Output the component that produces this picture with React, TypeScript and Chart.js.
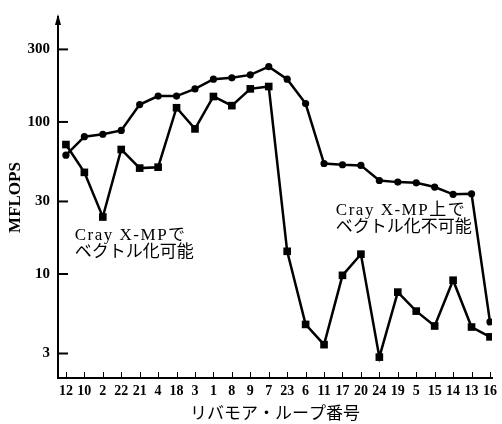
import React, { useEffect, useRef } from "react";
import { Chart, registerables } from "chart.js";

Chart.register(...registerables);

const categories = ["12", "10", "2", "22", "21", "4", "18", "3", "1", "8", "9", "7", "23", "6", "11", "17", "20", "24", "19", "5", "15", "14", "13", "16"];
const vectorizedOnXMP = [60.5, 80, 83, 88, 130, 148, 148, 165, 191, 195, 204, 231, 191, 132, 53.3, 52.3, 51.8, 41.2, 40.2, 39.8, 37.3, 33.4, 33.7, 4.84];
const squareSeries = [71, 46.6, 23.7, 65.9, 49.7, 50.4, 124, 90, 147, 128, 165, 171, 14.1, 4.66, 3.43, 9.8, 13.5, 2.84, 7.6, 5.7, 4.55, 9.1, 4.48, 3.86];
const yTickValues = [3, 10, 30, 100, 300];
const yTitle = "MFLOPS";
const xTitle = "リバモア・ループ番号";
const noteLeft = ["Cray X-MPで", "ベクトル化可能"];
const noteRight = ["Cray X-MP上で", "ベクトル化不可能"];

const SERIF = '"Liberation Serif", "Times New Roman", serif';
const NOTE_FONT = '17px "Liberation Serif", "Noto Sans CJK JP", serif';

const decorPlugin = {
  id: "decor",
  afterDraw(chart: any) {
    const { ctx, chartArea } = chart;
    const xs = chart.scales.x;
    const ys = chart.scales.y;
    ctx.save();
    ctx.strokeStyle = "#000";
    ctx.fillStyle = "#000";
    ctx.lineWidth = 1;
    categories.forEach((_, i) => {
      const px = Math.round(xs.getPixelForValue(i)) + 0.5;
      ctx.beginPath();
      ctx.moveTo(px, chartArea.bottom);
      ctx.lineTo(px, chartArea.bottom - 6);
      ctx.stroke();
    });
    ctx.lineWidth = 2;
    yTickValues.forEach((v) => {
      const py = ys.getPixelForValue(v);
      ctx.beginPath();
      ctx.moveTo(chartArea.left, py);
      ctx.lineTo(chartArea.left + 10, py);
      ctx.stroke();
    });
    const ax = chartArea.left;
    const ay = chartArea.top - 3;
    ctx.beginPath();
    ctx.moveTo(ax, ay);
    ctx.lineTo(ax - 3, ay + 11);
    ctx.lineTo(ax + 3, ay + 11);
    ctx.closePath();
    ctx.fill();
    ctx.font = NOTE_FONT;
    ctx.textBaseline = "middle";
    ctx.textAlign = "left";
    const drawLines = (lines: string[], x: number, y: number) => {
      lines.forEach((t, k) => {
        (ctx as any).letterSpacing = k === 0 ? "1.5px" : "0px";
        ctx.fillText(t, x, y + k * 17);
      });
      (ctx as any).letterSpacing = "0px";
    };
    drawLines(noteLeft, xs.getPixelForValue(0.48), ys.getPixelForValue(17.8));
    drawLines(noteRight, xs.getPixelForValue(14.64), ys.getPixelForValue(26.2));
    ctx.restore();
  },
};

export default function App() {
  const ref = useRef<HTMLCanvasElement>(null);
  useEffect(() => {
    document.body.style.margin = "0";
    const canvas = ref.current!;
    const chart = new Chart(canvas, {
      type: "line",
      data: {
        datasets: [
          {
            data: vectorizedOnXMP.map((v, i) => ({ x: i, y: v })),
            borderColor: "#000",
            backgroundColor: "#000",
            borderWidth: 2.5,
            pointStyle: "circle",
            pointRadius: 3.6,
            pointBorderWidth: 0,
            tension: 0,
          },
          {
            data: squareSeries.map((v, i) => ({ x: i, y: v })),
            borderColor: "#000",
            backgroundColor: "#000",
            borderWidth: 2.5,
            pointStyle: "rect",
            pointRadius: 5.4,
            pointBorderWidth: 0,
            tension: 0,
          },
        ],
      },
      options: {
        responsive: false,
        animation: false,
        devicePixelRatio: 1,
        layout: { padding: { top: 10, right: 5, left: 0, bottom: 0 } },
        plugins: { legend: { display: false }, tooltip: { enabled: false } },
        scales: {
          x: {
            type: "linear",
            min: -0.43,
            max: 23.11,
            afterBuildTicks: (s: any) => {
              s.ticks = categories.map((_, i) => ({ value: i }));
            },
            afterFit: (s: any) => {
              s.height = 46;
            },
            ticks: {
              autoSkip: false,
              maxRotation: 0,
              padding: 5,
              color: "#000",
              font: { family: SERIF, size: 14, weight: "bold" },
              callback: (v: any) => categories[v] ?? "",
            },
            grid: { display: true, drawOnChartArea: false, drawTicks: false, color: "rgba(0,0,0,0)" },
            border: { display: true, color: "#000", width: 2 },
            title: {
              display: true,
              text: xTitle,
              color: "#000",
              font: { family: '"Noto Sans CJK JP", sans-serif', size: 17 },
              padding: { top: 0, bottom: 1 },
            },
          },
          y: {
            type: "logarithmic",
            min: 2.07,
            max: 490,
            afterBuildTicks: (s: any) => {
              s.ticks = yTickValues.map((v) => ({ value: v }));
            },
            afterFit: (s: any) => {
              s.width = 58;
            },
            ticks: {
              padding: 8,
              color: "#000",
              font: { family: SERIF, size: 15, weight: "bold" },
              callback: (v: any) => String(v),
            },
            grid: { display: true, drawOnChartArea: false, drawTicks: false, color: "rgba(0,0,0,0)" },
            border: { display: true, color: "#000", width: 2 },
            title: {
              display: true,
              text: yTitle,
              color: "#000",
              font: { family: SERIF, size: 17, weight: "bold" },
              padding: { top: 5, bottom: 0 },
            },
          },
        },
      },
      plugins: [decorPlugin],
    });
    return () => chart.destroy();
  }, []);
  return (
    <div style={{ position: "absolute", left: 0, top: 0, width: 502, height: 424, background: "#fff" }}>
      <canvas ref={ref} width={502} height={424} style={{ width: 502, height: 424 }} />
    </div>
  );
}
